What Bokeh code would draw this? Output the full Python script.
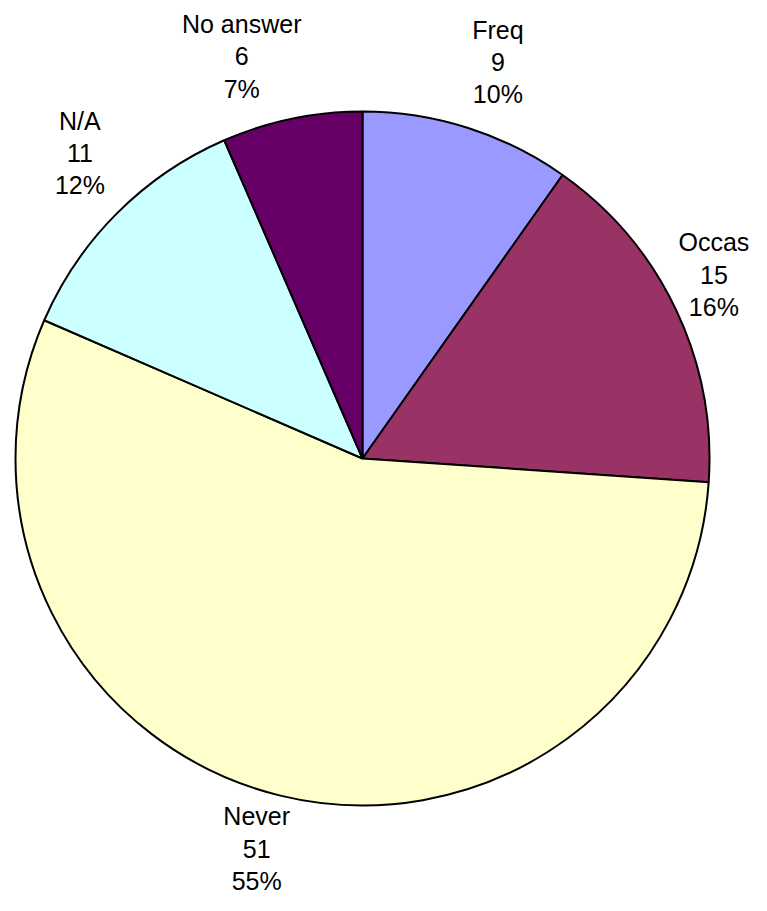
import numpy as np
from bokeh.plotting import figure
from bokeh.models import Range1d, ColumnDataSource
from bokeh.core.properties import value
from bokeh.embed import file_html
from bokeh.resources import INLINE

categories = ["Freq", "Occas", "Never", "N/A", "No answer"]
counts = [9, 15, 51, 11, 6]
percent_labels = ["10%", "16%", "55%", "12%", "7%"]
colors = ["#9999FF", "#993366", "#FFFFCC", "#CCFFFF", "#660066"]

W, H = 751, 895
FS = 25
LINE = 32
cx, cy, R = 362, 911 - 458, 347

vals = np.array(counts, dtype=float)
frac = vals / vals.sum()
cum = np.concatenate([[0], np.cumsum(frac)])
start = np.pi / 2 - cum[:-1] * 2 * np.pi
end = np.pi / 2 - cum[1:] * 2 * np.pi

p = figure(width=W, height=H, output_backend="svg", toolbar_location=None,
           x_range=Range1d(0, W), y_range=Range1d(911 - H, 911),
           x_axis_location=None, y_axis_location=None, min_border=0,
           tools="")
p.outline_line_color = None
p.grid.visible = False
p.background_fill_color = "white"

src = ColumnDataSource(dict(start=start, end=end, color=colors))
p.wedge(x=cx, y=cy, radius=R, start_angle="start", end_angle="end",
        direction="clock", fill_color="color", line_color="black", line_width=2,
        source=src)

# label positions: outside the pie along the mid angle, box pushed outward
mid = (cum[:-1] + cum[1:]) / 2 * 2 * np.pi  # angle from 12 o'clock clockwise
gap = 24
nudge = {"Freq": (15, -3), "Occas": (-14, 4), "Never": (-10, 17),
         "N/A": (-6, 9), "No answer": (-33, -8)}
texts, lx, ly = [], [], []
for i, c in enumerate(categories):
    t = f"{c}\n{counts[i]}\n{percent_labels[i]}"
    w = max(len(s) for s in t.split("\n")) * 0.56 * 24
    h = 3 * LINE
    s, co = np.sin(mid[i]), np.cos(mid[i])
    px = cx + (R + gap) * s + w / 2 * s + nudge[c][0]
    py = cy + (R + gap) * co + h / 2 * co + nudge[c][1]
    texts.append(t); lx.append(px); ly.append(py)

p.text(x=lx, y=ly, text=texts, text_align="center", text_baseline="middle",
       text_font=value("Liberation Sans"), text_font_size=f"{FS}px",
       text_line_height=LINE / (FS * 1.11), text_color="black")

open("out.html", "w").write(file_html(p, INLINE))
